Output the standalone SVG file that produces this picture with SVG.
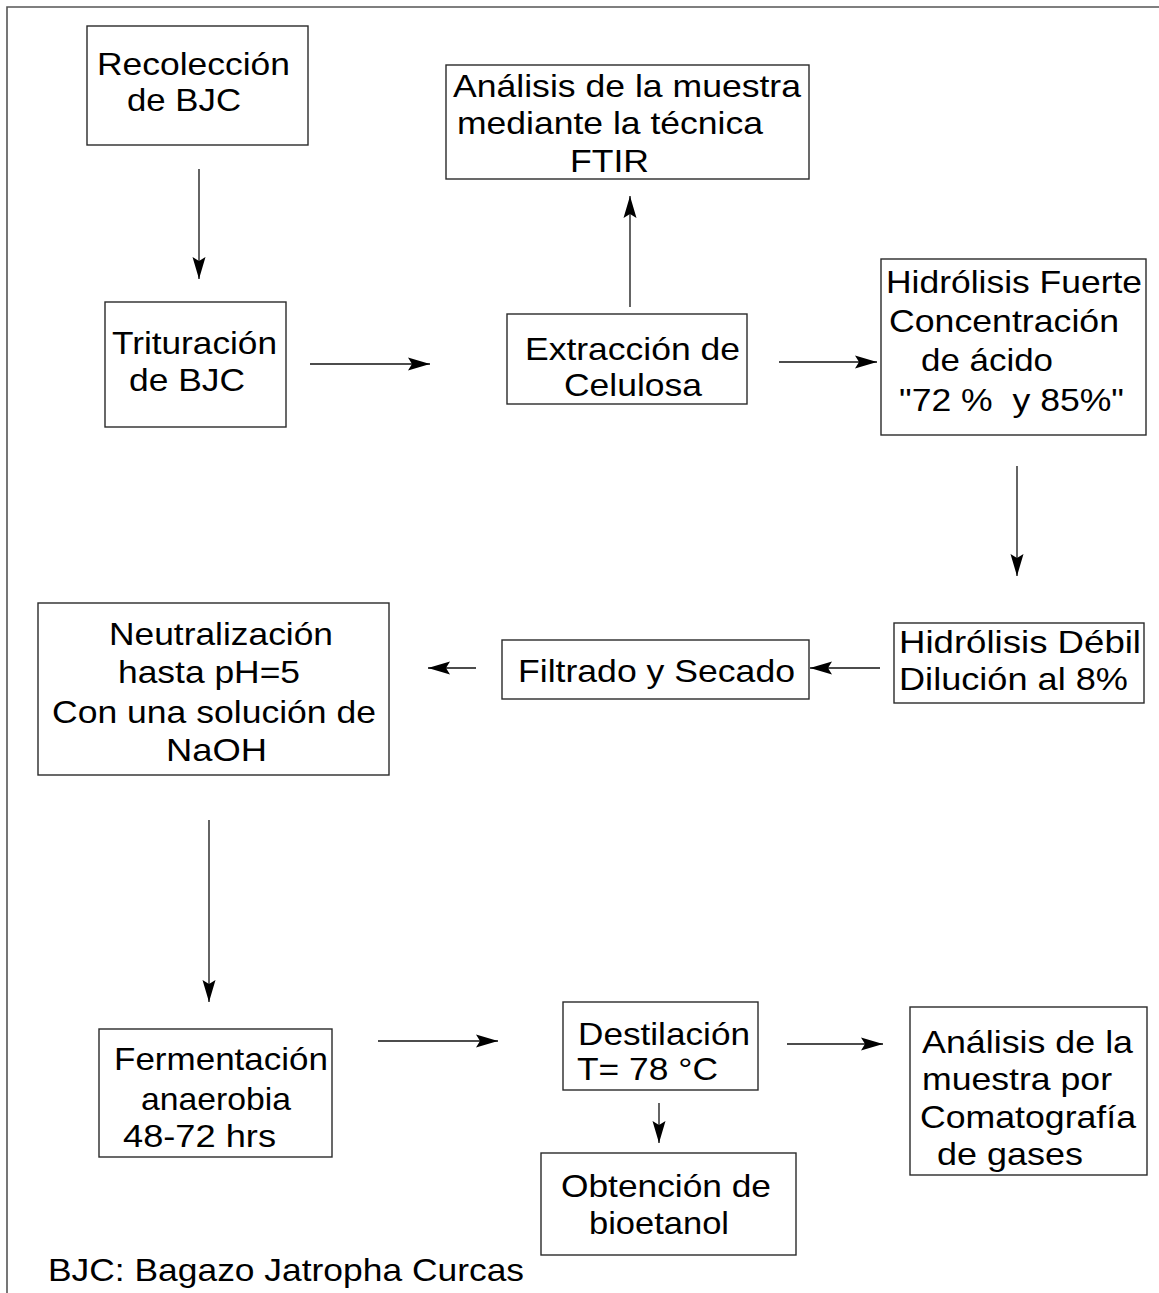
<svg xmlns="http://www.w3.org/2000/svg" width="1159" height="1293" viewBox="0 0 1159 1293">
<style>
.box{fill:#fff;stroke:#2a2a2a;stroke-width:1.4}
.t{font-family:"Liberation Sans",Arial,sans-serif;font-size:32px;fill:#000}
.c{stroke:#111;stroke-width:1.3;fill:none;marker-end:url(#ah)}
.frame{stroke:#555;stroke-width:1.6;fill:none}
</style>
<defs>
<marker id="ah" markerUnits="userSpaceOnUse" markerWidth="24" markerHeight="16" refX="22" refY="8" orient="auto">
<path d="M0,1.5 L22,8 L0,14.5 L4,8 Z" fill="#000"/>
</marker>
</defs>
<rect width="1159" height="1293" fill="#fff"/>
<path class="frame" d="M7,1293 V7 H1159"/>

<g id="recoleccion">
<rect class="box" x="87" y="26" width="221" height="119"/>
<text class="t" x="97" y="75" textLength="193" lengthAdjust="spacingAndGlyphs">Recolección</text>
<text class="t" x="127" y="111" textLength="114" lengthAdjust="spacingAndGlyphs">de BJC</text>
</g>
<g id="trituracion">
<rect class="box" x="105" y="302" width="181" height="125"/>
<text class="t" x="112" y="354" textLength="165" lengthAdjust="spacingAndGlyphs">Trituración</text>
<text class="t" x="129" y="391" textLength="116" lengthAdjust="spacingAndGlyphs">de BJC</text>
</g>
<g id="ftir">
<rect class="box" x="446" y="65" width="363" height="114"/>
<text class="t" x="453" y="97" textLength="348" lengthAdjust="spacingAndGlyphs">Análisis de la muestra</text>
<text class="t" x="457" y="134" textLength="306" lengthAdjust="spacingAndGlyphs">mediante la técnica</text>
<text class="t" x="570" y="172" textLength="79" lengthAdjust="spacingAndGlyphs">FTIR</text>
</g>
<g id="extraccion">
<rect class="box" x="507" y="314" width="240" height="90"/>
<text class="t" x="525" y="360" textLength="215" lengthAdjust="spacingAndGlyphs">Extracción de</text>
<text class="t" x="564" y="396" textLength="138" lengthAdjust="spacingAndGlyphs">Celulosa</text>
</g>
<g id="hidrolisis-fuerte">
<rect class="box" x="881" y="259" width="265" height="176"/>
<text class="t" x="886" y="293" textLength="256" lengthAdjust="spacingAndGlyphs">Hidrólisis Fuerte</text>
<text class="t" x="889" y="332" textLength="230" lengthAdjust="spacingAndGlyphs">Concentración</text>
<text class="t" x="921" y="371" textLength="132" lengthAdjust="spacingAndGlyphs">de ácido</text>
<text class="t" x="899" y="411" textLength="225" lengthAdjust="spacingAndGlyphs" xml:space="preserve" style="white-space:pre">"72 %  y 85%"</text>
</g>
<g id="hidrolisis-debil">
<rect class="box" x="894" y="623" width="250" height="80"/>
<text class="t" x="899" y="653" textLength="242" lengthAdjust="spacingAndGlyphs">Hidrólisis Débil</text>
<text class="t" x="899" y="690" textLength="229" lengthAdjust="spacingAndGlyphs">Dilución al 8%</text>
</g>
<g id="filtrado">
<rect class="box" x="502" y="640" width="307" height="59"/>
<text class="t" x="518" y="682" textLength="277" lengthAdjust="spacingAndGlyphs">Filtrado y Secado</text>
</g>
<g id="neutralizacion">
<rect class="box" x="38" y="603" width="351" height="172"/>
<text class="t" x="109" y="645" textLength="224" lengthAdjust="spacingAndGlyphs">Neutralización</text>
<text class="t" x="118" y="683" textLength="182" lengthAdjust="spacingAndGlyphs">hasta pH=5</text>
<text class="t" x="52" y="723" textLength="324" lengthAdjust="spacingAndGlyphs">Con una solución de</text>
<text class="t" x="166" y="761" textLength="101" lengthAdjust="spacingAndGlyphs">NaOH</text>
</g>
<g id="fermentacion">
<rect class="box" x="99" y="1029" width="233" height="128"/>
<text class="t" x="114" y="1070" textLength="214" lengthAdjust="spacingAndGlyphs">Fermentación</text>
<text class="t" x="141" y="1110" textLength="150" lengthAdjust="spacingAndGlyphs">anaerobia</text>
<text class="t" x="123" y="1147" textLength="153" lengthAdjust="spacingAndGlyphs">48-72 hrs</text>
</g>
<g id="destilacion">
<rect class="box" x="563" y="1002" width="195" height="88"/>
<text class="t" x="578" y="1045" textLength="172" lengthAdjust="spacingAndGlyphs">Destilación</text>
<text class="t" x="577" y="1080" textLength="141" lengthAdjust="spacingAndGlyphs">T= 78 °C</text>
</g>
<g id="obtencion">
<rect class="box" x="541" y="1153" width="255" height="102"/>
<text class="t" x="561" y="1197" textLength="210" lengthAdjust="spacingAndGlyphs">Obtención de</text>
<text class="t" x="589" y="1234" textLength="140" lengthAdjust="spacingAndGlyphs">bioetanol</text>
</g>
<g id="cromatografia">
<rect class="box" x="910" y="1007" width="237" height="168"/>
<text class="t" x="922" y="1053" textLength="211" lengthAdjust="spacingAndGlyphs">Análisis de la</text>
<text class="t" x="922" y="1090" textLength="190" lengthAdjust="spacingAndGlyphs">muestra por</text>
<text class="t" x="920" y="1128" textLength="216" lengthAdjust="spacingAndGlyphs">Comatografía</text>
<text class="t" x="937" y="1165" textLength="146" lengthAdjust="spacingAndGlyphs">de gases</text>
</g>
<g id="nota">
<text class="t" x="48" y="1281" textLength="476" lengthAdjust="spacingAndGlyphs">BJC: Bagazo Jatropha Curcas</text>
</g>

<g id="connectors">
<line class="c" x1="199" y1="169" x2="199" y2="279"/>
<line class="c" x1="310" y1="364" x2="430" y2="364"/>
<line class="c" x1="630" y1="307" x2="630" y2="196"/>
<line class="c" x1="779" y1="362" x2="877" y2="362"/>
<line class="c" x1="1017" y1="466" x2="1017" y2="576"/>
<line class="c" x1="880" y1="668" x2="810" y2="668"/>
<line class="c" x1="476" y1="668" x2="428" y2="668"/>
<line class="c" x1="209" y1="820" x2="209" y2="1002"/>
<line class="c" x1="378" y1="1041" x2="498" y2="1041"/>
<line class="c" x1="787" y1="1044" x2="883" y2="1044"/>
<line class="c" x1="659" y1="1103" x2="659" y2="1143"/>
</g>
</svg>
